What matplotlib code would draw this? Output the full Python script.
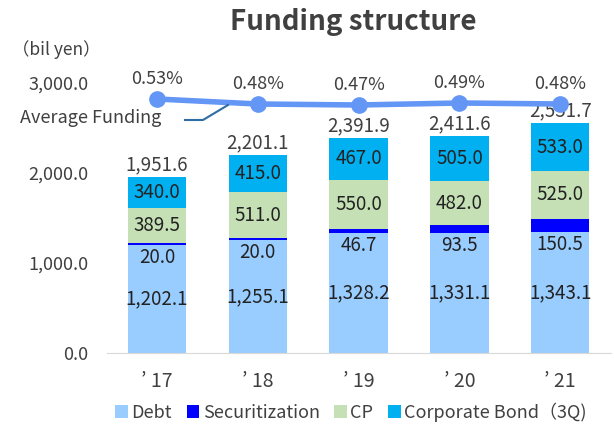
import numpy as np
import matplotlib
matplotlib.use("Agg")
import matplotlib.pyplot as plt

plt.rcParams['font.family'] = ['Noto Sans CJK JP', 'DejaVu Sans']

years = ["’ 17", "’ 18", "’ 19", "’ 20", "’ 21"]
debt = [1202.1, 1255.1, 1328.2, 1331.1, 1343.1]
securitization = [20.0, 20.0, 46.7, 93.5, 150.5]
cp = [389.5, 511.0, 550.0, 482.0, 525.0]
corp_bond = [340.0, 415.0, 467.0, 505.0, 533.0]
totals = [1951.6, 2201.1, 2391.9, 2411.6, 2551.7]
avg_rate = [0.53, 0.48, 0.47, 0.49, 0.48]

c_debt = "#99CCFF"
c_sec = "#0000FF"
c_cp = "#C5E0B4"
c_bond = "#00B0F0"
c_line = "#6496F5"
txt = "#404040"

fig = plt.figure(figsize=(6.14, 4.28), dpi=100)
ax = fig.add_axes([106.6 / 614, 75 / 428, 504 / 614, 279 / 428])

x = np.arange(len(years))
w = 0.58
debt = np.array(debt)
securitization = np.array(securitization)
cp = np.array(cp)
corp_bond = np.array(corp_bond)

b1 = ax.bar(x, debt, w, color=c_debt, label="Debt")
b2 = ax.bar(x, securitization, w, bottom=debt, color=c_sec, label="Securitization")
b3 = ax.bar(x, cp, w, bottom=debt + securitization, color=c_cp, label="CP")
b4 = ax.bar(x, corp_bond, w, bottom=debt + securitization + cp, color=c_bond,
            label="Corporate Bond（3Q)")

lab_fs = 13.5
for i in range(len(x)):
    ax.text(x[i], debt[i] / 2, f"{debt[i]:,.1f}", ha="center", va="center",
            fontsize=lab_fs, color="#222222")
    ax.text(x[i], debt[i] - 20, f"{securitization[i]:,.1f}", ha="center", va="top",
            fontsize=lab_fs, color="#222222")
    base = debt[i] + securitization[i]
    ax.text(x[i], base + cp[i] / 2, f"{cp[i]:,.1f}", ha="center", va="center",
            fontsize=lab_fs, color="#222222")
    base += cp[i]
    ax.text(x[i], base + corp_bond[i] / 2, f"{corp_bond[i]:,.1f}", ha="center", va="center",
            fontsize=lab_fs, color="#222222")
    ax.text(x[i], totals[i] + 20, f"{totals[i]:,.1f}", ha="center", va="bottom",
            fontsize=lab_fs, color=txt)

ax.set_xlim(-0.5, 4.5)
ax.set_ylim(0, 3100)
ax.set_yticks([0, 1000, 2000, 3000])
ax.set_yticklabels(["0.0", "1,000.0", "2,000.0", "3,000.0"], fontsize=13, color=txt)
ax.set_xticks(x)
ax.set_xticklabels(years, fontsize=14, color=txt)
ax.tick_params(length=0)
ax.tick_params(axis="y", pad=13)
ax.tick_params(axis="x", pad=13)
for s in ax.spines.values():
    s.set_visible(False)
ax.spines["bottom"].set_visible(True)
ax.spines["bottom"].set_color("#D9D9D9")

# average funding rate line on a hidden secondary axis
ax2 = ax.twinx()
ax2.set_ylim(-2.01, 0.78)
ax2.plot(x, avg_rate, color=c_line, lw=4, marker="o", markersize=11, zorder=5)
for i in range(len(x)):
    ax2.text(x[i], avg_rate[i] + 0.11, f"{avg_rate[i]:.2f}%", ha="center", va="bottom",
             fontsize=13, color=txt)
ax2.axis("off")

fig.text(20 / 614, 1 - 118 / 428, "Average Funding", fontsize=13, color=txt,
         ha="left", va="center")
fig.add_artist(plt.Line2D([185 / 614, 203 / 614, 228 / 614],
                          [1 - 120 / 428, 1 - 120 / 428, 1 - 105 / 428],
                          color="#2E6DA4", lw=1.5))

fig.text(353 / 614, 1 - 22 / 428, "Funding structure", fontsize=20, fontweight="bold",
         color=txt, ha="center", va="center")
fig.text(12 / 614, 1 - 50 / 428, "（bil yen）", fontsize=12.5, color=txt,
         ha="left", va="center")

leg = fig.legend(handles=[b1, b2, b3, b4], loc="center", bbox_to_anchor=(351 / 614, 1 - 412 / 428),
                 ncol=4, frameon=False, fontsize=13, handlelength=0.7, handleheight=0.7,
                 handletextpad=0.2, columnspacing=0.8, labelcolor=txt)

fig.savefig("out.png", dpi=100)
